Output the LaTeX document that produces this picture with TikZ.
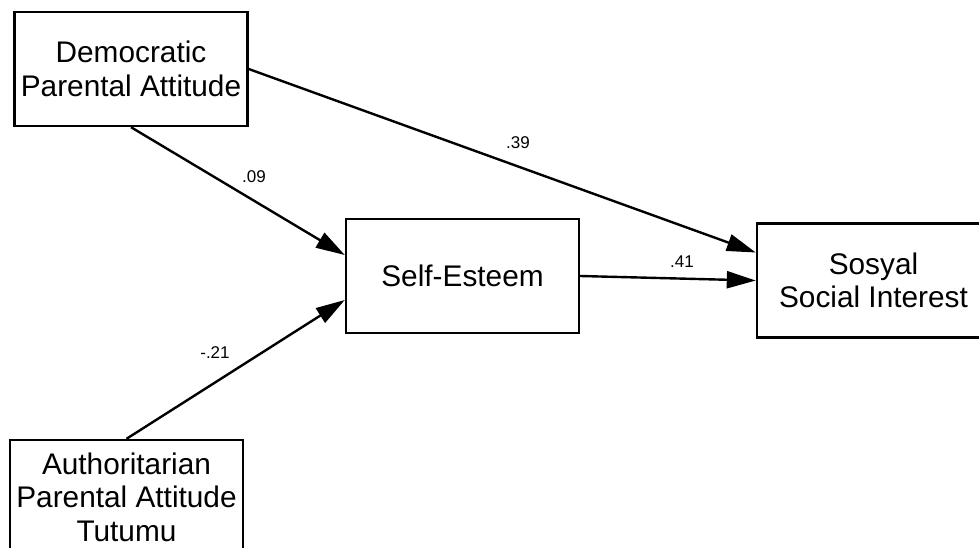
\documentclass[tikz,border=0pt]{standalone}
\usepackage{fontspec}
\setmainfont{Liberation Sans}
\usetikzlibrary{arrows.meta}
\begin{document}
\begin{tikzpicture}[x=1pt,y=-1pt,
  box/.style={draw,line width=2.4pt,minimum width=233pt,minimum height=114pt,inner sep=0pt,align=center,font=\fontsize{29.8}{33.5}\selectfont},
  path/.style={line width=2.4pt,-{Triangle[length=29pt,width=17pt]}},
  coef/.style={font=\fontsize{17}{20}\selectfont,inner sep=0pt}]
\useasboundingbox (0,0) rectangle (979,548);
\fill[white] (0,0) rectangle (979,548);
\node[box] (dem) at (131,69) {Democratic\\Parental Attitude};
\node[box] (aut) at (126.5,497) {Authoritarian\\Parental Attitude\\Tutumu};
\node[box] (self) at (462.5,276) {Self-Esteem};
\node[box] (soc) at (873.5,280.5) {Sosyal\\Social Interest};
\draw[path] (dem.east) -- ([yshift=28pt]soc.west);
\draw[path] (self.east) -- (soc.west);
\draw[path] (dem.south) -- ([yshift=21pt]self.west);
\draw[path] (aut.north) -- ([yshift=-24pt]self.west);
\node[coef] (l09) at (254,177) {.09};
\node[coef] (l39) at (518,143) {.39};
\node[coef] (l41) at (682,262) {.41};
\node[coef] (l21) at (215,353) {-.21};
\end{tikzpicture}
\end{document}
